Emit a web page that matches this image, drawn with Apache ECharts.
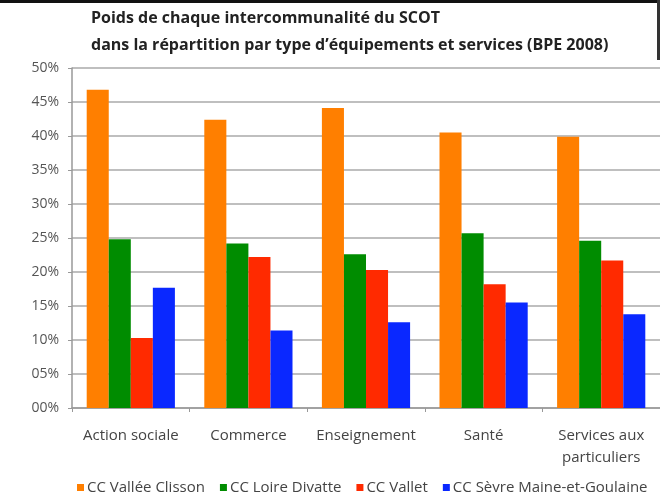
<!DOCTYPE html>
<html><head><meta charset="utf-8">
<script src="https://cdn.jsdelivr.net/npm/echarts@6/dist/echarts.min.js"></script>
<style>html,body{margin:0;padding:0;background:#fff}#c{width:660px;height:498px}</style>
</head><body><div id="c"></div>
<script>
const categories = ['Action sociale', 'Commerce', 'Enseignement', 'Santé', 'Services aux\nparticuliers'];
const seriesNames = ['CC Vallée Clisson', 'CC Loire Divatte', 'CC Vallet', 'CC Sèvre Maine-et-Goulaine'];
const valleeClisson = [46.8, 42.4, 44.1, 40.5, 39.9];
const loireDivatte = [24.8, 24.2, 22.6, 25.7, 24.6];
const vallet = [10.3, 22.2, 20.3, 18.2, 21.7];
const sevreMaine = [17.7, 11.4, 12.6, 15.5, 13.8];
const colors = ['#FF7F00', '#008C00', '#FF2A00', '#0A28FF'];
const allValues = [valleeClisson, loireDivatte, vallet, sevreMaine];

const chart = echarts.init(document.getElementById('c'));
chart.setOption({
  animation: false,
  backgroundColor: '#fff',
  title: {
    text: "Poids de chaque intercommunalité du SCOT\ndans la répartition par type d’équipements et services (BPE 2008)",
    left: 86, top: 0,
    textStyle: { fontFamily: 'Open Sans', fontSize: 16, fontWeight: 'bold', color: '#222', lineHeight: 27 }
  },
  legend: {
    bottom: -2, left: 72, itemWidth: 7, itemHeight: 7, itemGap: 15,
    icon: 'rect',
    textStyle: { fontFamily: 'Open Sans', fontSize: 15, color: '#444', padding: [0,0,0,-2] },
    data: seriesNames
  },
  grid: { left: 72, right: 0, top: 68, bottom: 90, containLabel: false },
  xAxis: {
    type: 'category', data: categories,
    axisLine: { lineStyle: { color: '#999', width: 1.5 } },
    axisTick: { show: true, length: 4, lineStyle: { color: '#999' } },
    axisLabel: { interval: 0, fontFamily: 'Open Sans', fontSize: 15, color: '#444', margin: 17, lineHeight: 22 }
  },
  yAxis: {
    type: 'value', min: 0, max: 50, interval: 5,
    axisLine: { show: true, lineStyle: { color: '#999', width: 1.5 } },
    axisTick: { show: true, length: 4, lineStyle: { color: '#999' } },
    splitLine: { lineStyle: { color: '#aaa', width: 1.5 } },
    axisLabel: { fontFamily: 'Open Sans', fontSize: 14, color: '#555', margin: 13,
      formatter: v => (v < 10 ? '0' + v : '' + v) + '%' }
  },
  series: seriesNames.map((n, i) => ({
    name: n, type: 'bar', data: allValues[i], barGap: '0%', barCategoryGap: '25%',
    itemStyle: { color: colors[i] }
  })),
  graphic: [
    { type: 'rect', shape: { x: 0, y: 0, width: 660, height: 3 }, style: { fill: '#111' } },
    { type: 'rect', shape: { x: 657, y: 0, width: 3, height: 60 }, style: { fill: '#333' } }
  ]
});
</script></body></html>
